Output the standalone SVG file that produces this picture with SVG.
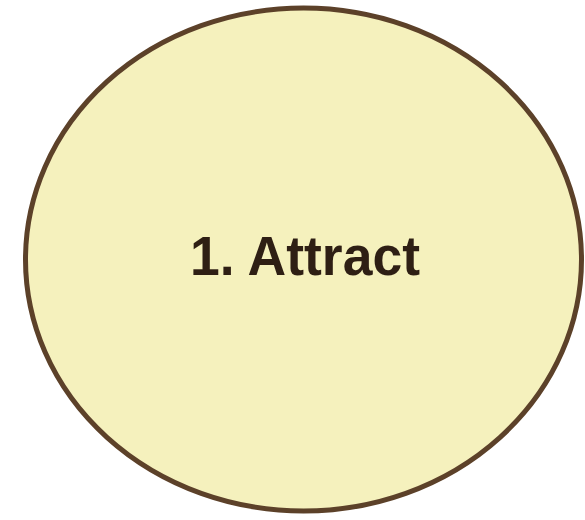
<svg xmlns="http://www.w3.org/2000/svg" width="585" height="520" viewBox="0 0 585 520">
<style>
.node-shape{fill:#f5f1bd;stroke:#5c4129;stroke-width:5}
.label{font-family:"Liberation Sans",Arial,sans-serif;font-weight:bold;font-size:55px;fill:#2e1f14}
</style>
<rect width="585" height="520" fill="#ffffff"/>
<g id="connectors"></g>
<g id="node-attract">
<ellipse class="node-shape" cx="303.5" cy="259.5" rx="278" ry="251.5"/>
<text class="label" x="305" y="275" text-anchor="middle" textLength="230" lengthAdjust="spacingAndGlyphs">1. Attract</text>
</g>
</svg>
